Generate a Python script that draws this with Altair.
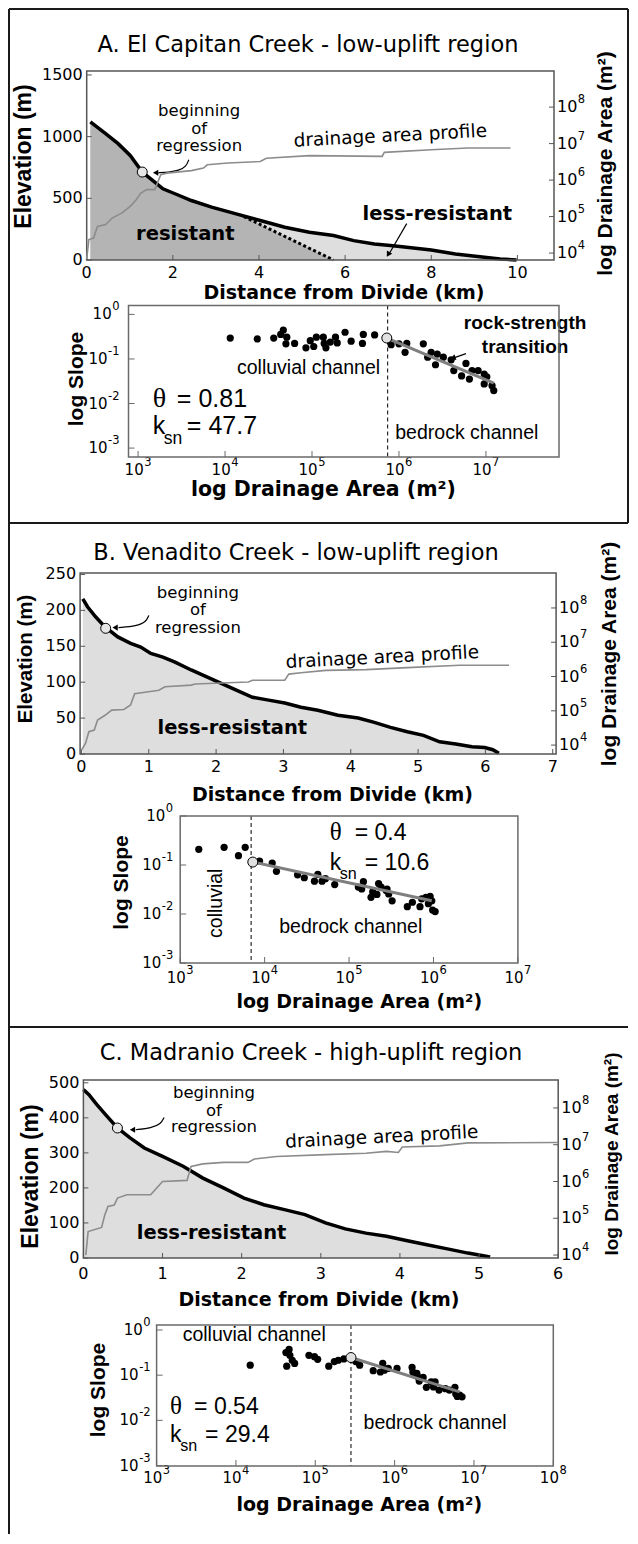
import altair as alt
import pandas as pd

FONT = "DejaVu Sans"
HFONT = "Liberation Sans"
SFONT = "Liberation Serif"
LIGHT = "#dedede"
DARK = "#b4b4b4"
DRAIN = "#8c8c8c"
FIT = "#7f7f7f"
BOX = "#555555"
SBOX = "#6a6a6a"
FRAME = "#1a1a1a"
WT, HT = 621, 1527

# ---------------- Panel A: El Capitan Creek ----------------
A_dist = [0.085, 0.44, 0.73, 1.01, 1.29, 1.58, 1.77, 2.05, 2.43, 2.90, 3.47, 4.03, 4.60, 5.17,
          5.73, 6.20, 6.68, 7.05, 7.43, 8.00, 8.56, 9.13, 9.60, 9.98]
A_elev = [1119, 1024, 943, 848, 713, 631, 577, 537, 482, 428, 374, 320, 266, 225,
          198, 157, 130, 117, 103, 81, 49, 27, 8, 0]
A_res_dist = [0.085, 0.44, 0.73, 1.01, 1.29, 1.58, 1.77, 2.05, 2.43, 2.90, 3.47, 3.65, 5.73]
A_res_elev = [1119, 1024, 943, 848, 713, 631, 577, 537, 482, 428, 374, 352, 0]
A_contact_dist = [3.65, 5.73]
A_contact_elev = [352, 0]
A_drain_dist = [0, 0.05, 0.16, 0.25, 0.44, 0.59, 0.82, 1.01, 1.15, 1.25, 1.39, 1.58, 1.72, 1.86,
                2.43, 2.71, 2.80, 3.28, 4.03, 4.17, 5.17, 6.86, 6.91, 8.00, 8.85, 9.84]
A_drain_logA = [3.84, 4.37, 4.41, 4.73, 4.78, 4.96, 5.10, 5.28, 5.46, 5.64, 5.74, 5.74, 6.15, 6.19,
                6.26, 6.33, 6.42, 6.47, 6.51, 6.60, 6.67, 6.65, 6.76, 6.83, 6.88, 6.88]
A_sa_logA = [4.06, 4.37, 4.56, 4.64, 4.67, 4.71, 4.70, 4.80, 4.93, 4.98, 5.02, 5.05, 5.13, 5.14,
             5.16, 5.21, 5.27, 5.29, 5.38, 5.45, 5.58, 5.59, 5.72, 5.91, 6.00, 6.09, 6.07, 6.28,
             6.33, 6.37, 6.42, 6.44, 6.51, 6.60, 6.63, 6.72, 6.77, 6.81, 6.84, 6.91, 6.98, 7.01,
             6.98, 7.07, 7.09]
A_sa_logS = [-0.53, -0.55, -0.53, -0.45, -0.35, -0.51, -0.66, -0.65, -0.75, -0.59, -0.72, -0.51,
             -0.51, -0.65, -0.75, -0.62, -0.51, -0.64, -0.40, -0.60, -0.65, -0.45, -0.46, -0.68,
             -0.66, -0.65, -0.85, -0.66, -0.96, -0.85, -1.13, -0.89, -0.96, -1.02, -1.26, -1.38,
             -1.10, -1.45, -1.26, -1.26, -1.34, -1.40, -1.56, -1.60, -1.71]
A_fit_logA = [5.86, 7.09]
A_fit_logS = [-0.53, -1.54]
A_break = [5.86, -0.53]
A_threshold = 5.87

# ---------------- Panel B: Venadito Creek ----------------
B_dist = [0.02, 0.09, 0.21, 0.35, 0.54, 0.73, 0.88, 1.03, 1.21, 1.39, 1.63, 1.87, 2.06, 2.30, 2.54,
          2.78, 3.02, 3.26, 3.51, 3.81, 4.11, 4.35, 4.59, 4.84, 5.08, 5.32, 5.56, 5.80, 5.99, 6.11, 6.20]
B_elev = [216, 205, 191, 177, 163, 154, 149, 140, 135, 128, 117, 107, 99, 89, 79,
          75, 71, 65, 61, 54, 50, 44, 37, 31, 26, 17, 14, 10, 9, 6, 1]
B_drain_dist = [0, 0.06, 0.11, 0.19, 0.24, 0.35, 0.45, 0.63, 0.73, 0.79, 0.97, 1.15, 1.24, 1.63,
                1.69, 2.18, 2.48, 2.54, 3.02, 3.08, 3.26, 3.63, 4.23, 4.84, 5.62, 6.35]
B_drain_logA = [3.85, 4.05, 4.39, 4.44, 4.73, 4.87, 5.02, 5.04, 5.17, 5.50, 5.55, 5.60, 5.70, 5.75,
                5.78, 5.82, 5.84, 5.89, 5.89, 6.07, 6.11, 6.18, 6.20, 6.26, 6.33, 6.33]
B_sa_logA = [3.22, 3.52, 3.69, 3.77, 3.94, 4.09, 4.14, 4.39, 4.47, 4.59, 4.63, 4.68, 4.72, 4.83,
             5.11, 5.17, 5.15, 5.26, 5.28, 5.33, 5.35, 5.38, 5.44, 5.45, 5.47, 5.51, 5.69, 5.75,
             5.84, 5.86, 5.91, 5.94, 5.96, 5.98, 5.99, 6.02]
B_sa_logS = [-0.68, -0.64, -0.81, -0.64, -0.92, -0.96, -1.13, -1.20, -1.26, -1.33, -1.19, -1.33,
             -1.28, -1.40, -1.45, -1.34, -1.49, -1.66, -1.55, -1.60, -1.38, -1.45, -1.52, -1.49,
             -1.59, -1.73, -1.85, -1.76, -1.85, -1.69, -1.66, -1.79, -1.64, -1.73, -1.92, -1.95]
B_fit_logA = [3.86, 5.98]
B_fit_logS = [-0.94, -1.73]
B_break = [3.86, -0.94]
B_threshold = 3.84

# ---------------- Panel C: Madranio Creek ----------------
C_dist = [0, 0.07, 0.17, 0.28, 0.43, 0.59, 0.77, 1.00, 1.26, 1.51, 1.77, 2.03, 2.28, 2.54, 2.80,
          3.06, 3.31, 3.57, 3.83, 4.08, 4.34, 4.60, 4.86, 5.14]
C_elev = [481, 466, 438, 409, 371, 343, 314, 290, 262, 228, 200, 171, 152, 138, 124,
          100, 83, 71, 62, 50, 38, 26, 14, 3]
C_drain_dist = [0.03, 0.06, 0.23, 0.27, 0.31, 0.39, 0.43, 0.55, 0.85, 1.00, 1.31, 1.36, 1.51, 1.77,
                2.08, 2.16, 2.44, 3.06, 3.57, 3.83, 3.98, 4.03, 4.50, 4.86, 6.00]
C_drain_logA = [4.00, 4.64, 4.75, 5.09, 5.32, 5.36, 5.55, 5.64, 5.64, 6.00, 6.03, 6.41, 6.48, 6.52,
                6.52, 6.61, 6.68, 6.73, 6.77, 6.82, 6.79, 6.94, 6.97, 7.05, 7.06]
C_sa_logA = [4.18, 4.63, 4.67, 4.68, 4.64, 4.71, 4.74, 4.92, 4.99, 5.03, 5.17, 5.24, 5.29, 5.36,
             5.51, 5.56, 5.73, 5.82, 5.85, 5.87, 5.92, 6.03, 6.22, 6.23, 6.26, 6.28, 6.30, 6.31,
             6.36, 6.40, 6.46, 6.49, 6.51, 6.56, 6.64, 6.69, 6.76, 6.77, 6.79, 6.82, 6.85]
C_sa_logS = [-0.78, -0.50, -0.43, -0.56, -0.80, -0.67, -0.74, -0.56, -0.59, -0.65, -0.80, -0.70,
             -0.67, -0.64, -0.70, -0.78, -0.90, -0.93, -0.74, -0.89, -0.85, -0.85, -0.83, -0.93,
             -1.00, -0.96, -1.05, -1.13, -1.05, -1.27, -1.15, -1.26, -1.15, -1.33, -1.30, -1.33,
             -1.27, -1.41, -1.47, -1.44, -1.48]
C_fit_logA = [5.45, 6.82]
C_fit_logS = [-0.61, -1.37]
C_break = [5.45, -0.61]
C_threshold = 5.45

TITLES = ["A. El Capitan Creek - low-uplift region",
          "B. Venadito Creek - low-uplift region",
          "C. Madranio Creek - high-uplift region"]
THETA = ["0.81", "0.4", "0.54"]
KSN = ["47.7", "10.6", "29.4"]
X_TITLE_PROFILE = "Distance from Divide (km)"
Y_TITLE_PROFILE = "Elevation (m)"
R_TITLE_PROFILE = "log Drainage Area (m²)"
X_TITLE_SLOPE = "log Drainage Area (m²)"
Y_TITLE_SLOPE = "log Slope"

DIGIT_W = 0.636   # DejaVu Sans digit advance (em)
HYPH_W = 0.361    # DejaVu Sans hyphen advance (em)


def lin(d, r):
    return alt.Scale(domain=list(d), range=list(r), nice=False, zero=False)


def logsc(d, r):
    return alt.Scale(type="log", domain=[10 ** d[0], 10 ** d[1]], range=list(r), nice=False)


def pw(v):
    return [10 ** x for x in v]


def text_layer(xv, yv, tv, xs, ys, **kw):
    df = pd.DataFrame({"x": xv, "y": yv, "t": tv})
    return alt.Chart(df).mark_text(color="black", **kw).encode(
        x=alt.X("x:Q", scale=xs, axis=None), y=alt.Y("y:Q", scale=ys, axis=None), text="t:N")


def xlabels(vals, labs, xs, ypix, fs, **kw):
    df = pd.DataFrame({"v": vals, "t": labs})
    return alt.Chart(df).mark_text(font=FONT, fontSize=fs, color="black", baseline="middle",
                                   **kw).encode(
        x=alt.X("v:Q", scale=xs, axis=None), y=alt.value(ypix), text="t:N")


def ylabels(vals, labs, ys, xpix, align, fs, **kw):
    df = pd.DataFrame({"v": vals, "t": labs})
    return alt.Chart(df).mark_text(font=FONT, fontSize=fs, color="black", baseline="middle",
                                   align=align, **kw).encode(
        y=alt.Y("v:Q", scale=ys, axis=None), x=alt.value(xpix), text="t:N")


def pow_x_labels(exps, xs, ypix, fs, efs=11.5, edy=-7):
    # "10" with a raised exponent, centred on each tick of a log axis
    w10, we = 2 * DIGIT_W * fs, DIGIT_W * efs
    half = (w10 + we + 0.5) / 2
    vals = pw(exps)
    return [xlabels(vals, ["10"] * len(exps), xs, ypix, fs, align="left", dx=-half),
            xlabels(vals, [str(e) for e in exps], xs, ypix, efs, align="left",
                    dx=-half + w10 + 0.5, dy=edy)]


def pow_y_labels_left(exps, ys, xpix, fs, efs=11.5, edy=-7):
    w10 = 2 * DIGIT_W * fs
    vals = pw(exps)
    return [ylabels(vals, ["10"] * len(exps), ys, xpix, "left", fs),
            ylabels(vals, [str(e) for e in exps], ys, xpix + w10 + 0.5, "left", efs, dy=edy)]


def pow_y_labels_right(exps, ys, xpix, fs, efs=11.5, edy=-7):
    out = [ylabels(pw(exps), [str(e) for e in exps], ys, xpix, "right", efs, dy=edy)]
    for e in exps:
        we = (HYPH_W if e < 0 else 0) * efs + DIGIT_W * efs
        out.append(ylabels(pw([e]), ["10"], ys, xpix - we - 0.5, "right", fs))
    return out


def axis_title(text, x, y, font, fs, angle=0):
    return alt.Chart(pd.DataFrame({"s": [0]})).mark_text(
        text=text, font=font, fontSize=fs, fontWeight="bold", color="black", angle=angle,
        baseline="middle").encode(x=alt.value(x), y=alt.value(y))


def arrow(xv, yv, head, xs, ys, shape="triangle-left", angle=0, curve=True):
    df = pd.DataFrame({"x": xv, "y": yv, "i": list(range(len(xv)))})
    line = alt.Chart(df).mark_line(color="black", strokeWidth=1.2,
                                   interpolate="basis" if curve else "linear").encode(
        x=alt.X("x:Q", scale=xs, axis=None), y=alt.Y("y:Q", scale=ys, axis=None), order="i:Q")
    hd = pd.DataFrame({"x": [head[0]], "y": [head[1]]})
    tip = alt.Chart(hd).mark_point(shape=shape, angle=angle, filled=True, color="black",
                                   size=38, opacity=1).encode(
        x=alt.X("x:Q", scale=xs, axis=None), y=alt.Y("y:Q", scale=ys, axis=None))
    return [line, tip]


def box(xd, yd, xs, ys, color):
    df = pd.DataFrame({"x": [xd[0]], "x2": [xd[1]], "y": [yd[0]], "y2": [yd[1]]})
    return alt.Chart(df).mark_rect(fillOpacity=0, stroke=color, strokeWidth=1.5).encode(
        x=alt.X("x:Q", scale=xs, axis=None), x2="x2:Q",
        y=alt.Y("y:Q", scale=ys, axis=None), y2="y2:Q")


def profile_panel(P):
    x0, x1, yt, yb = P["px"]
    xs, ys, rs = lin(P["xdom"], [x0, x1]), lin(P["ydom"], [yb, yt]), logsc(P["rdom"], [yb, yt])
    prof = pd.DataFrame({"d": P["dist"], "e": P["elev"]})
    L = [alt.Chart(prof).mark_area(color=LIGHT).encode(
        x=alt.X("d:Q", scale=xs, axis=None), y=alt.Y("e:Q", scale=ys, axis=None))]
    if "res_dist" in P:
        res = pd.DataFrame({"d": P["res_dist"], "e": P["res_elev"]})
        L.append(alt.Chart(res).mark_area(color=DARK).encode(
            x=alt.X("d:Q", scale=xs, axis=None), y=alt.Y("e:Q", scale=ys, axis=None)))
        con = pd.DataFrame({"d": P["con_dist"], "e": P["con_elev"]})
        L.append(alt.Chart(con).mark_line(color="black", strokeWidth=3, strokeDash=[3, 2.5]).encode(
            x=alt.X("d:Q", scale=xs, axis=None), y=alt.Y("e:Q", scale=ys, axis=None)))
    L.append(alt.Chart(prof).mark_line(color="black", strokeWidth=3.5).encode(
        x=alt.X("d:Q", scale=xs, axis=None), y=alt.Y("e:Q", scale=ys, axis=None)))
    # inward tick marks and tick labels
    L.append(alt.Chart(pd.DataFrame({"v": P["yticks"]})).mark_rule(color=BOX, strokeWidth=1).encode(
        y=alt.Y("v:Q", scale=ys, axis=None), x=alt.value(x0), x2=alt.value(x0 + 5)))
    L.append(alt.Chart(pd.DataFrame({"v": P["xticks"]})).mark_rule(color=BOX, strokeWidth=1).encode(
        x=alt.X("v:Q", scale=xs, axis=None), y=alt.value(yb - 5), y2=alt.value(yb)))
    L.append(xlabels(P["xticks"], [str(v) for v in P["xticks"]], xs, yb + P["xlp"], 16))
    L.append(ylabels(P["yticks"], [str(v) for v in P["yticks"]], ys, x0 - 4, "right", 16))
    # annotations
    L += arrow(P["arr_x"], P["arr_y"], P["arr_head"], xs, ys)
    circ = pd.DataFrame({"d": [P["circ"][0]], "e": [P["circ"][1]]})
    L.append(alt.Chart(circ).mark_point(shape="circle", filled=True, fill="#e6e6e6", stroke="black",
                                        strokeWidth=1, size=100, opacity=1).encode(
        x=alt.X("d:Q", scale=xs, axis=None), y=alt.Y("e:Q", scale=ys, axis=None)))
    bx = P["beg_x"]
    L.append(text_layer([bx, bx, bx], P["beg_y"], ["beginning", "of", "regression"], xs, ys,
                        font=FONT, fontSize=16.5))
    L.append(text_layer([P["dap"][0]], [P["dap"][1]], ["drainage area profile"], xs, ys,
                        font=FONT, fontSize=18.5, angle=357))
    L.append(text_layer([p[0] for p in P["bold"]], [p[1] for p in P["bold"]],
                        [p[2] for p in P["bold"]], xs, ys, font=FONT, fontSize=19.5,
                        fontWeight="bold"))
    if "arr2_x" in P:
        L += arrow(P["arr2_x"], P["arr2_y"], P["arr2_head"], xs, ys, shape="triangle-up",
                   angle=211, curve=False)
    L.append(box(P["xdom"], P["ydom"], xs, ys, BOX))
    left = alt.layer(*L)

    rexp = [4, 5, 6, 7, 8]
    dr = pd.DataFrame({"d": P["drain_dist"], "a": pw(P["drain_logA"])})
    R = [alt.Chart(dr).mark_line(color=DRAIN, strokeWidth=1.6).encode(
        x=alt.X("d:Q", scale=xs, axis=None), y=alt.Y("a:Q", scale=rs, axis=None)),
        alt.Chart(pd.DataFrame({"v": pw(rexp)})).mark_rule(color=BOX, strokeWidth=1).encode(
            y=alt.Y("v:Q", scale=rs, axis=None), x=alt.value(x1 - 5), x2=alt.value(x1))]
    R += pow_y_labels_left(rexp, rs, x1 + 3, 16)
    right = alt.layer(*R)
    titles = [
        axis_title(X_TITLE_PROFILE, x0 + P["xtx"], yb + P["xty"], FONT, 19),
        axis_title(Y_TITLE_PROFILE, x0 + P["ytx"], yt + P["yty"], HFONT, P["ytfs"], 270),
        axis_title(R_TITLE_PROFILE, x1 + P["rtx"], yt + P["rty"], HFONT, P["rtfs"], 270),
    ]
    return alt.layer(left, right, *titles).resolve_scale(y="independent")


def slope_panel(S):
    x0, x1, yt, yb = S["px"]
    xs, ys = logsc(S["xdom"], [x0, x1]), logsc(S["ydom"], [yb, yt])
    pts = pd.DataFrame({"a": pw(S["logA"]), "s": pw(S["logS"])})
    L = [alt.Chart(pd.DataFrame({"a": pw([S["thr"]])})).mark_rule(
        color="black", strokeWidth=1, strokeDash=[4, 3]).encode(
        x=alt.X("a:Q", scale=xs, axis=None), y=alt.value(yt), y2=alt.value(yb))]
    L.append(alt.Chart(pts).mark_circle(color="black", size=52, opacity=1).encode(
        x=alt.X("a:Q", scale=xs, axis=None), y=alt.Y("s:Q", scale=ys, axis=None)))
    fit = pd.DataFrame({"a": pw(S["fitA"]), "s": pw(S["fitS"])})
    L.append(alt.Chart(fit).mark_line(color=FIT, strokeWidth=3).encode(
        x=alt.X("a:Q", scale=xs, axis=None), y=alt.Y("s:Q", scale=ys, axis=None)))
    brk = pd.DataFrame({"a": pw([S["brk"][0]]), "s": pw([S["brk"][1]])})
    L.append(alt.Chart(brk).mark_point(shape="circle", filled=True, fill="#e0e0e0", stroke="black",
                                       strokeWidth=1, size=100, opacity=1).encode(
        x=alt.X("a:Q", scale=xs, axis=None), y=alt.Y("s:Q", scale=ys, axis=None)))
    yexp = [-3, -2, -1, 0]
    L.append(alt.Chart(pd.DataFrame({"v": pw(yexp)})).mark_rule(color=SBOX, strokeWidth=1).encode(
        y=alt.Y("v:Q", scale=ys, axis=None), x=alt.value(x0), x2=alt.value(x0 + 6)))
    L.append(alt.Chart(pd.DataFrame({"v": pw(S["xexp"])})).mark_rule(color=SBOX, strokeWidth=1).encode(
        x=alt.X("v:Q", scale=xs, axis=None), y=alt.value(yb - 6), y2=alt.value(yb)))
    L += pow_x_labels(S["xexp"], xs, yb + S["xlp"], 15)
    L += pow_y_labels_right(yexp, ys, x0 - S["ylp"], 15)
    for (x, y, t, kw) in S["notes"]:
        L.append(text_layer(pw([x]), pw([y]), [t], xs, ys, **kw))
    tx, ty, ky = S["theta_pos"]
    fs, tfs = S["eqfs"], S["thfs"]
    L.append(text_layer(pw([tx]), pw([ty]), ["θ"], xs, ys, font=SFONT, fontSize=tfs,
                        align="left", baseline="alphabetic"))
    L.append(text_layer(pw([tx]), pw([ty]), ["= " + S["theta"]], xs, ys, font=HFONT, fontSize=fs,
                        align="left", baseline="alphabetic", dx=S["eqdx"]))
    L.append(text_layer(pw([tx]), pw([ky]), ["k"], xs, ys, font=HFONT, fontSize=fs,
                        align="left", baseline="alphabetic"))
    L.append(text_layer(pw([tx]), pw([ky]), ["sn"], xs, ys, font=HFONT, fontSize=fs * 0.7,
                        align="left", baseline="alphabetic", dx=fs * 0.44, dy=fs * 0.4))
    L.append(text_layer(pw([tx]), pw([ky]), ["= " + S["ksn"]], xs, ys, font=HFONT, fontSize=fs,
                        align="left", baseline="alphabetic", dx=S["kdx"]))
    if "arr_x" in S:
        L += arrow(pw(S["arr_x"]), pw(S["arr_y"]), pw(S["arr_head"]), xs, ys,
                   shape="triangle-up", angle=251, curve=False)
    L.append(box(pw(S["xdom"]), pw(S["ydom"]), xs, ys, SBOX))
    L.append(axis_title(X_TITLE_SLOPE, x0 + S["xtx"], yb + S["xty"], FONT, S["xtfs"]))
    L.append(axis_title(Y_TITLE_SLOPE, x0 + S["ytx"], yt + S["yty"], HFONT, 21, 270))
    return alt.layer(*L)


REG = dict(font=HFONT, fontSize=19.5)
BOLD = dict(font=HFONT, fontSize=19, fontWeight="bold")

PA = dict(px=(78.7, 546.0, 63, 252), xdom=[0, 10.85], ydom=[0, 1532], rdom=[3.81, 8.99],
          xticks=[0, 2, 4, 6, 8, 10], yticks=[0, 500, 1000, 1500],
          dist=A_dist, elev=A_elev, res_dist=A_res_dist, res_elev=A_res_elev,
          con_dist=A_contact_dist, con_elev=A_contact_elev,
          drain_dist=A_drain_dist, drain_logA=A_drain_logA,
          xtx=257.3, xty=32.5, xlp=12.5, ytx=-62.3, yty=85.5, ytfs=23, rtx=52, rty=92.5, rtfs=21,
          arr_x=[2.37, 2.31, 2.14, 1.90, 1.66], arr_y=[813, 757, 725, 711, 707], arr_head=[1.6, 707],
          circ=[1.29, 713], beg_x=2.61, beg_y=[1211, 1065, 927], dap=[7.05, 1008],
          bold=[[2.29, 211, "resistant"], [8.14, 374, "less-resistant"]],
          arr2_x=[7.43, 7.03], arr2_y=[295, 55], arr2_head=[7.0, 45])
PB = dict(px=(72.1, 548.1, 565, 746), xdom=[-0.02, 7.05], ydom=[0, 252], rdom=[3.74, 9.02],
          xticks=[0, 1, 2, 3, 4, 5, 6, 7], yticks=[0, 50, 100, 150, 200, 250],
          dist=B_dist, elev=B_elev, drain_dist=B_drain_dist, drain_logA=B_drain_logA,
          xtx=252.4, xty=41, xlp=13, ytx=-54.1, yty=86, ytfs=20.5, rtx=54, rty=81, rtfs=21,
          arr_x=[1.0, 0.96, 0.82, 0.55], arr_y=[193, 184, 178, 176], arr_head=[0.5, 176],
          circ=[0.36, 175], beg_x=1.73, beg_y=[224, 200, 175], dap=[4.47, 135],
          bold=[[2.24, 36, "less-resistant"]])
PC = dict(px=(75.4, 550.2, 1072, 1250), xdom=[0, 6], ydom=[0, 508], rdom=[3.92, 8.76],
          xticks=[0, 1, 2, 3, 4, 5, 6], yticks=[0, 100, 200, 300, 400, 500],
          dist=C_dist, elev=C_elev, drain_dist=C_drain_dist, drain_logA=C_drain_logA,
          xtx=235.6, xty=42, xlp=16, ytx=-52.4, yty=96.5, ytfs=23, rtx=54, rty=74, rtfs=19,
          arr_x=[1.02, 0.98, 0.86, 0.66], arr_y=[401, 383, 371, 366], arr_head=[0.62, 366],
          circ=[0.43, 371], beg_x=1.65, beg_y=[471, 420, 374], dap=[3.77, 346],
          bold=[[1.62, 71, "less-resistant"]])

SA = dict(px=(120.5, 551.0, 297.5, 449), xdom=[2.89, 7.84], ydom=[-3.2, 0.2], xexp=[3, 4, 5, 6, 7],
          logA=A_sa_logA, logS=A_sa_logS, thr=A_threshold, fitA=A_fit_logA, fitS=A_fit_logS,
          brk=A_break, xtfs=20.5, xtx=194.9, xty=33, xlp=13, ytx=-51.2, yty=73.5, ylp=9,
          notes=[(4.96, -1.2, "colluvial channel", REG), (6.78, -2.67, "bedrock channel", REG),
                 (7.45, -0.20, "rock-strength", BOLD), (7.45, -0.73, "transition", BOLD)],
          theta_pos=(3.17, -2.08, -2.69), theta=THETA[0], ksn=KSN[0], eqfs=25, thfs=28,
          eqdx=24, kdx=34, arr_x=[6.77, 6.64], arr_y=[-0.88, -0.97], arr_head=[6.62, -0.98])
SB = dict(px=(172.2, 509.9, 808, 955), xdom=[3, 7], ydom=[-3, 0], xexp=[3, 4, 5, 6, 7],
          logA=B_sa_logA, logS=B_sa_logS, thr=B_threshold, fitA=B_fit_logA, fitS=B_fit_logS,
          brk=B_break, xtfs=19, xtx=179.1, xty=39, xlp=15, ytx=-58.2, yty=66.5, ylp=7,
          notes=[(3.42, -1.78, "colluvial", dict(font=HFONT, fontSize=19.5, angle=270)),
                 (5.02, -2.27, "bedrock channel", REG)],
          theta_pos=(4.77, -0.49, -1.10), theta=THETA[1], ksn=KSN[1], eqfs=23, thfs=25,
          eqdx=25, kdx=35)
SC = dict(px=(148.6, 545.3, 1317, 1458), xdom=[3, 8], ydom=[-3.01, 0.11], xexp=[3, 4, 5, 6, 7, 8],
          logA=C_sa_logA, logS=C_sa_logS, thr=C_threshold, fitA=C_fit_logA, fitS=C_fit_logS,
          brk=C_break, xtfs=19, xtx=202.7, xty=39, xlp=12, ytx=-58, yty=65, ylp=6,
          notes=[(4.23, -0.11, "colluvial channel", REG), (6.51, -2.05, "bedrock channel", REG)],
          theta_pos=(3.17, -1.85, -2.48), theta=THETA[2], ksn=KSN[2], eqfs=23, thfs=25,
          eqdx=24, kdx=35)

# panel titles and the outer frame of the figure (page decoration)
fb = alt.Chart(pd.DataFrame({"s": [0]}))
TITLE_POS = [(300, 37), (288, 545), (303, 1045)]
deco = [fb.mark_text(font=FONT, fontSize=22.5, color="black", text=t).encode(
    x=alt.value(p[0]), y=alt.value(p[1])) for t, p in zip(TITLES, TITLE_POS)]
deco += [
    fb.mark_rule(color=FRAME, strokeWidth=2).encode(x=alt.value(1), y=alt.value(1), y2=alt.value(1526)),
    fb.mark_rule(color=FRAME, strokeWidth=2).encode(x=alt.value(1), x2=alt.value(620), y=alt.value(1)),
    fb.mark_rule(color=FRAME, strokeWidth=2).encode(x=alt.value(620), y=alt.value(1), y2=alt.value(515)),
    fb.mark_rule(color=FRAME, strokeWidth=2).encode(x=alt.value(1), x2=alt.value(620), y=alt.value(515)),
    fb.mark_rule(color=FRAME, strokeWidth=2).encode(x=alt.value(1), x2=alt.value(620), y=alt.value(1019)),
]

chart = alt.layer(
    profile_panel(PA), slope_panel(SA),
    profile_panel(PB), slope_panel(SB),
    profile_panel(PC), slope_panel(SC),
    *deco,
).resolve_scale(x="independent", y="independent").properties(
    width=WT, height=HT, padding={"left": 0, "top": 0, "right": 0, "bottom": 0}
).configure_view(stroke=None)

chart.save("out.html", embed_options={"renderer": "svg", "actions": False})
